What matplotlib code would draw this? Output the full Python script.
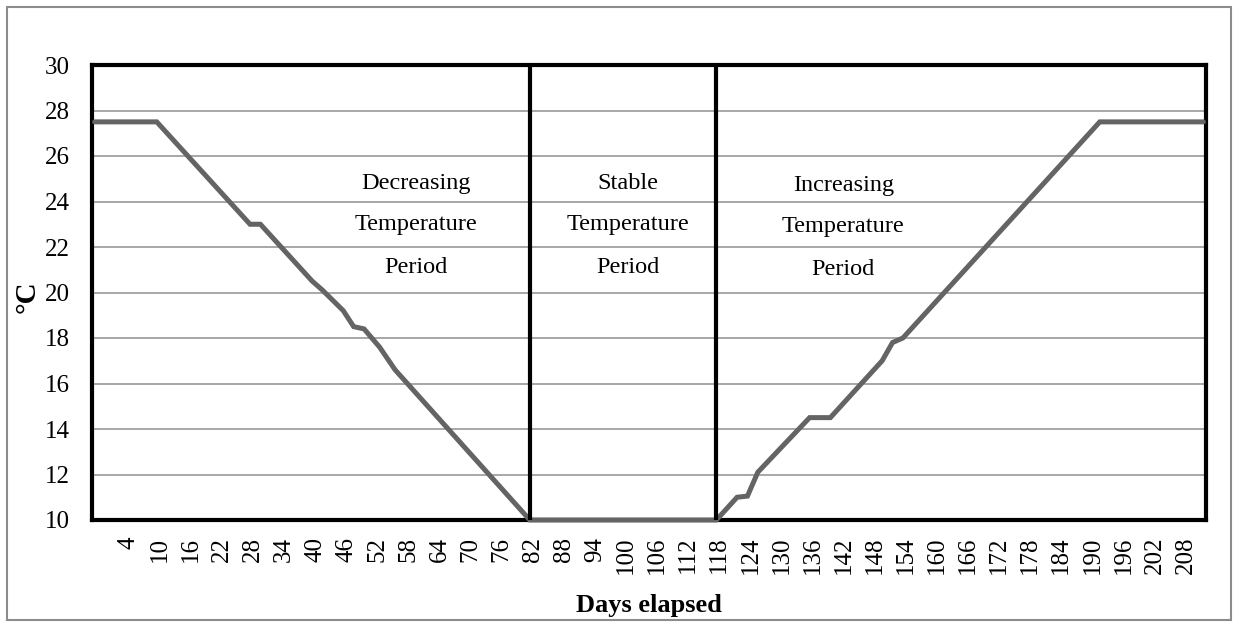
import matplotlib
matplotlib.use("Agg")
import matplotlib.pyplot as plt
import matplotlib.transforms as mtrans
from matplotlib.patches import Rectangle

# ---- data (breakpoints) ----
days = [-2, 10, 28, 30, 40, 42, 46, 48, 50, 53, 56, 82,
        118, 122, 124, 126, 136, 140, 150, 152, 154, 192, 212]
temps = [27.5, 27.5, 23.0, 23.0, 20.5, 20.1, 19.2, 18.5, 18.4, 17.6, 16.6, 10.0,
         10.0, 11.0, 11.05, 12.1, 14.5, 14.5, 17.0, 17.8, 18.0, 27.5, 27.5]
tick_days = list(range(4, 209, 6))
y_ticks = list(range(10, 31, 2))
period_bounds = [82, 118]
period_labels = [["Decreasing", "Temperature", "Period"],
                 ["Stable", "Temperature", "Period"],
                 ["Increasing", "Temperature", "Period"]]
label_x = [60, 101, 142.5]
label_y = [[24.8, 23.0, 21.1], [24.8, 23.0, 21.1], [24.7, 22.9, 21.0]]

plt.rcParams['font.family'] = ['Liberation Serif', 'DejaVu Serif']

W, H = 1238, 627
fig = plt.figure(figsize=(W / 100, H / 100), dpi=100)
ax = fig.add_axes([92 / W, 1 - 520 / H, (1206 - 92) / W, (520 - 65) / H])

ax.set_xlim(-2.5, 212.5)
ax.set_ylim(10, 30)

ax.plot(days, temps, color='#646464', lw=3.6, solid_capstyle='round',
        solid_joinstyle='miter', zorder=3, clip_on=False)

ax.set_yticks(y_ticks)
ax.set_xticks(tick_days)
ax.set_xticklabels([str(d) for d in tick_days], rotation=90, va='top', ha='center')
ax.tick_params(axis='x', length=0, pad=12, labelsize=18)
ax.tick_params(axis='y', length=0, pad=16, labelsize=18)
shift = mtrans.ScaledTranslation(3 / 100, 0, fig.dpi_scale_trans)
for lab in ax.get_xticklabels():
    lab.set_transform(lab.get_transform() + shift)
ax.yaxis.grid(True, color='#a0a0a0', lw=1.3)
ax.set_axisbelow(True)

for s in ax.spines.values():
    s.set_color('black')
    s.set_linewidth(3)

for b in period_bounds:
    ax.axvline(b, color='black', lw=3, zorder=4)

for labs, x, ys in zip(period_labels, label_x, label_y):
    for t, y in zip(labs, ys):
        ax.text(x, y, t, ha='center', va='center', fontsize=17.5)

ax.set_xlabel('Days elapsed', fontsize=19, fontweight='bold', labelpad=14)
ax.set_ylabel('°C', fontsize=21, fontweight='bold')
ax.yaxis.set_label_coords(-0.046, 0.49)

# outer chart border
fig.patches.append(Rectangle((7 / W, 1 - 620 / H), (1231 - 7) / W, (620 - 7) / H,
                             transform=fig.transFigure, fill=False,
                             edgecolor='#8c8c8c', lw=1.5))

fig.savefig('out.png', dpi=100)
